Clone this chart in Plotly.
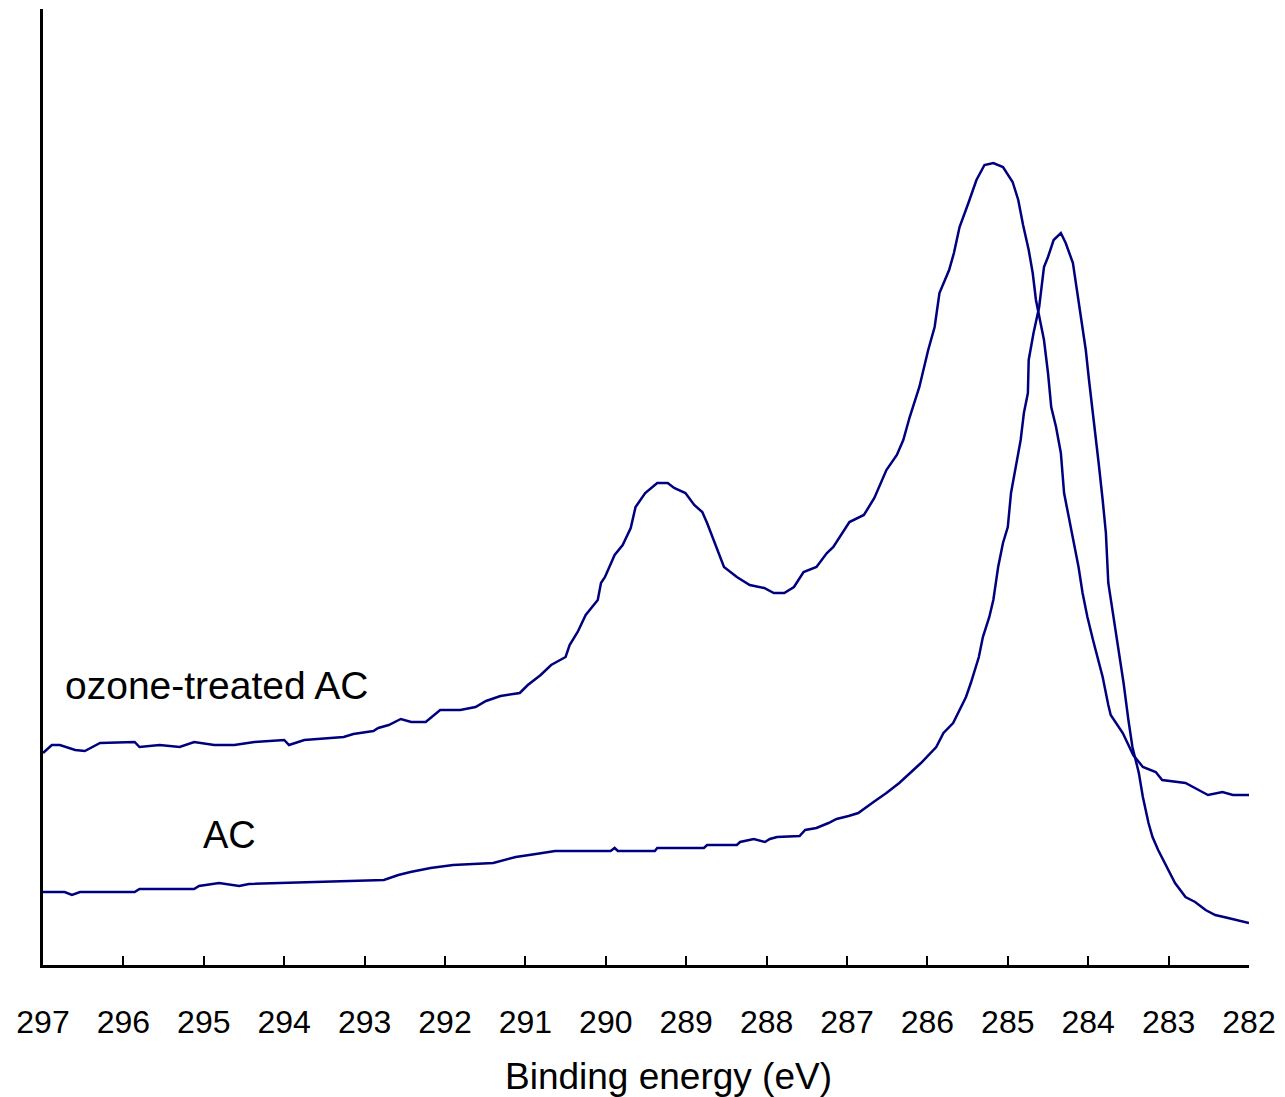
import plotly.graph_objects as go

# Binding energy (eV) and intensity (arbitrary units)
ozone_be = [297.00, 296.89, 296.79, 296.60, 296.48, 296.29, 295.86, 295.80, 295.55, 295.30,
            295.12, 294.87, 294.62, 294.37, 294.00, 293.94, 293.75, 293.45, 293.26, 293.14,
            292.89, 292.83, 292.70, 292.55, 292.42, 292.24, 292.17, 292.06, 291.81, 291.62,
            291.49, 291.31, 291.07, 290.97, 290.81, 290.68, 290.50, 290.45, 290.35, 290.25,
            290.10, 290.06, 290.01, 289.89, 289.79, 289.69, 289.63, 289.51, 289.36, 289.23,
            289.15, 289.01, 288.90, 288.80, 288.74, 288.65, 288.53, 288.37, 288.21, 288.03,
            287.91, 287.78, 287.66, 287.54, 287.38, 287.25, 287.17, 286.97, 286.79, 286.66,
            286.51, 286.38, 286.30, 286.22, 286.10, 285.99, 285.91, 285.85, 285.73, 285.67,
            285.60, 285.49, 285.39, 285.29, 285.18, 285.06, 284.94, 284.87, 284.81, 284.74,
            284.69, 284.65, 284.61, 284.55, 284.50, 284.46, 284.40, 284.34, 284.30, 284.24,
            284.18, 284.12, 284.07, 284.01, 283.94, 283.88, 283.82, 283.75, 283.72, 283.57,
            283.44, 283.32, 283.16, 283.08, 282.79, 282.58, 282.51, 282.33, 282.20, 282.00]
ozone_int = [212, 220, 220, 215, 214, 222, 223, 218, 220, 218,
             223, 220, 220, 223, 225, 220, 225, 227, 228, 231,
             234, 237, 240, 246, 243, 243, 248, 255, 255, 258,
             264, 269, 272, 280, 290, 300, 308, 320, 333, 350,
             365, 382, 388, 410, 420, 437, 458, 472, 482, 482,
             477, 472, 460, 453, 442, 423, 398, 388, 380, 377,
             372, 372, 378, 393, 398, 412, 418, 443, 450, 467,
             495, 510, 525, 548, 578, 615, 638, 672, 695, 712,
             738, 762, 785, 800, 802, 798, 783, 765, 740, 715,
             692, 665, 648, 625, 592, 558, 538, 512, 472, 448,
             422, 398, 372, 348, 325, 305, 288, 260, 250, 232,
             210, 198, 193, 185, 182, 173, 170, 173, 170, 170]

ac_be = [297.00, 296.73, 296.64, 296.54, 295.86, 295.80, 295.12, 295.06, 294.81, 294.56,
         294.44, 293.57, 292.76, 292.58, 292.43, 292.18, 291.90, 291.40, 291.25, 291.12,
         290.87, 290.63, 289.94, 289.89, 289.85, 289.39, 289.36, 288.78, 288.74, 288.37,
         288.33, 288.16, 288.02, 287.96, 287.87, 287.59, 287.52, 287.38, 287.23, 287.13,
         286.98, 286.86, 286.67, 286.51, 286.35, 286.22, 286.08, 285.89, 285.80, 285.68,
         285.60, 285.52, 285.46, 285.36, 285.31, 285.23, 285.18, 285.12, 285.06, 285.00,
         284.96, 284.90, 284.84, 284.80, 284.75, 284.74, 284.68, 284.61, 284.55, 284.50,
         284.43, 284.34, 284.28, 284.19, 284.13, 284.07, 284.03, 283.99, 283.94, 283.91,
         283.87, 283.82, 283.78, 283.75, 283.68, 283.62, 283.56, 283.50, 283.45, 283.37,
         283.32, 283.25, 283.20, 283.13, 283.00, 282.92, 282.79, 282.67, 282.54, 282.42,
         282.26, 282.00]
ac_int = [73, 73, 70, 73, 73, 76, 76, 79, 82, 79,
          81, 83, 85, 90, 93, 97, 100, 102, 105, 108,
          111, 114, 114, 117, 114, 114, 117, 117, 120, 120,
          123, 126, 123, 126, 128, 129, 135, 137, 142, 146,
          149, 152, 163, 172, 182, 192, 202, 218, 232, 242,
          255, 268, 282, 308, 328, 348, 365, 398, 422, 438,
          472, 498, 525, 552, 572, 605, 632, 658, 698, 708,
          725, 732, 722, 702, 668, 638, 615, 585, 552, 532,
          502, 465, 432, 382, 345, 315, 282, 245, 218, 192,
          168, 142, 128, 115, 95, 82, 68, 63, 55, 50,
          47, 42]

tick_vals = list(range(297, 281, -1))
tick_text = [str(v) for v in tick_vals]

line_color = "#00007f"

fig = go.Figure()
fig.add_trace(go.Scatter(x=ozone_be, y=ozone_int, mode="lines", name="ozone-treated AC",
                         line=dict(color=line_color, width=2.5)))
fig.add_trace(go.Scatter(x=ac_be, y=ac_int, mode="lines", name="AC",
                         line=dict(color=line_color, width=2.5)))

fig.update_layout(
    width=1285, height=1097,
    margin=dict(l=43, r=31, t=9, b=132),
    paper_bgcolor="white", plot_bgcolor="white",
    showlegend=False,
    font=dict(family="Liberation Sans, Arial, sans-serif", color="black"),
    xaxis=dict(range=[297, 282], tickmode="array", tickvals=tick_vals, ticktext=tick_text,
               ticks="inside", ticklen=9, tickwidth=2, tickcolor="black",
               showline=True, linecolor="black", linewidth=3, showgrid=False, zeroline=False,
               tickfont=dict(size=32, color="black"), ticklabelstandoff=27),
    yaxis=dict(range=[0, 956], showline=True, linecolor="black", linewidth=3,
               showticklabels=False, ticks="", showgrid=False, zeroline=False),
    annotations=[
        dict(text="ozone-treated AC", xref="paper", yref="y", x=0.0165, y=280,
             xanchor="left", yanchor="middle", showarrow=False,
             font=dict(size=39, color="black")),
        dict(text="AC", xref="paper", yref="y", x=0.1313, y=130,
             xanchor="left", yanchor="middle", showarrow=False,
             font=dict(size=38, color="black")),
        dict(text="Binding energy (eV)", xref="paper", yref="paper", x=0.519, y=-0.117,
             xanchor="center", yanchor="middle", showarrow=False,
             font=dict(size=37, color="black")),
    ],
)

fig.write_html("out.html")
